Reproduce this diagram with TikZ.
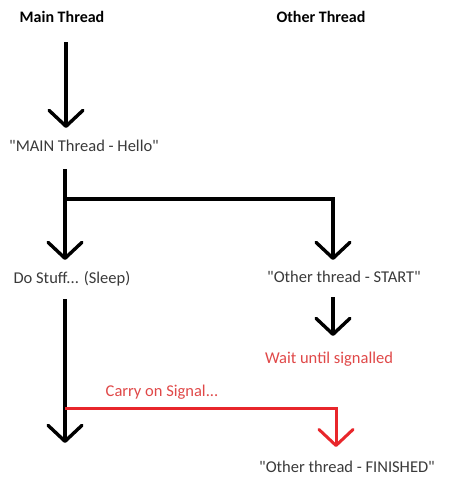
\documentclass[tikz,border=0pt]{standalone}
\usepackage{fontspec}
\setmainfont{Carlito}[Ligatures=TeXOff]
\usetikzlibrary{arrows.meta}
\definecolor{txtgray}{HTML}{3A3A3A}
\definecolor{sigred}{HTML}{E04848}
\definecolor{linered}{HTML}{E8262B}
\begin{document}
\begin{tikzpicture}[x=1pt,y=-1pt,
  head/.style={font=\fontsize{16}{18}\selectfont\bfseries, text=black, inner sep=0pt},
  lbl/.style={font=\fontsize{16.5}{19}\selectfont, text=txtgray, inner sep=0pt},
  redlbl/.style={font=\fontsize{16.5}{19}\selectfont, text=sigred, inner sep=0pt},
  flow/.style={line width=3.4pt, -{Straight Barb[length=16pt,width=34pt,round]}},
  redflow/.style={flow, draw=linered, line width=3pt}]
\useasboundingbox (0,0) rectangle (459,490);
\fill[white] (0,0) rectangle (459,490);
% texts
\node[head] (mainh) at (62,17) {Main Thread};
\node[head] (otherh) at (321,17) {Other Thread};
\node[lbl] (hello) at (84,146) {"MAIN Thread - Hello"};
\node[lbl] (dostuff) at (72,279) {Do Stuff... (Sleep)};
\node[lbl] (start) at (344,277) {"Other thread - START"};
\node[redlbl] (wait) at (329,359) {Wait until signalled};
\node[redlbl] (carry) at (162,392) {Carry on Signal...};
\node[lbl] (fin) at (347,467) {"Other thread - FINISHED"};
% coordinates
\coordinate (a1s) at (66,42);
\coordinate (a1e) at (66,128);
\coordinate (a2s) at (65,169);
\coordinate (br) at (65,199);
\coordinate (a2e) at (65,260);
\coordinate (b2e) at (333,260);
\coordinate (a3s) at (65,299);
\coordinate (sig) at (65,408);
\coordinate (a3e) at (65,443);
\coordinate (o1s) at (333,297);
\coordinate (o1e) at (333,336);
\coordinate (r1e) at (336,447);
% connectors
\draw[flow] (a1s) -- (a1e);
\draw[flow] (a2s) -- (a2e);
\draw[flow] (br) -| (b2e);
\draw[flow] (a3s) -- (a3e);
\draw[flow] (o1s) -- (o1e);
\draw[redflow] (sig) -| (r1e);
\end{tikzpicture}
\end{document}
